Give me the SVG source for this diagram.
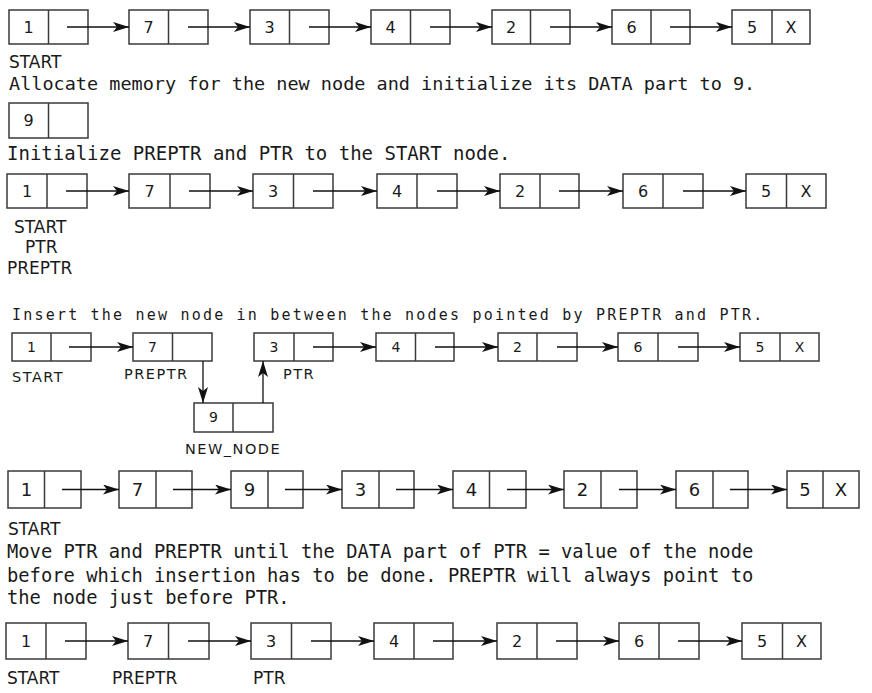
<svg xmlns="http://www.w3.org/2000/svg" width="872" height="693" viewBox="0 0 872 693">
<defs>
<marker id="ah" markerUnits="userSpaceOnUse" markerWidth="16" markerHeight="10" refX="16" refY="5" orient="auto">
<path d="M0,0 L16,5 L0,10 L4,5 z" fill="#111"/>
</marker>
<style>
.box{fill:#fff;stroke:#3a3a3a;stroke-width:1.5}
.div{stroke:#3a3a3a;stroke-width:1.5}
.d{font-family:"DejaVu Sans",sans-serif;fill:#1a1a1a;text-anchor:middle}
.lbl{font-family:"DejaVu Sans",sans-serif;fill:#1a1a1a;font-size:17px}
.lbl4{font-family:"DejaVu Sans",sans-serif;fill:#1a1a1a;font-size:14.5px;letter-spacing:1.5px}
.mono{font-family:"DejaVu Sans Mono",monospace;fill:#1a1a1a}
.conn line{stroke:#111;stroke-width:1.3;marker-end:url(#ah)}
</style>
</defs>
<rect width="872" height="693" fill="#fff"/>

<!-- Row 1 -->
<g id="r1n1"><rect class="box" x="9" y="10" width="79" height="34"/><line class="div" x1="48.5" y1="10" x2="48.5" y2="44"/><text class="d" x="28.5" y="33" font-size="16">1</text></g>
<g id="r1n2"><rect class="box" x="129" y="10" width="79" height="34"/><line class="div" x1="168.5" y1="10" x2="168.5" y2="44"/><text class="d" x="148.5" y="33" font-size="16">7</text></g>
<g id="r1n3"><rect class="box" x="250" y="10" width="79" height="34"/><line class="div" x1="289.5" y1="10" x2="289.5" y2="44"/><text class="d" x="269.5" y="33" font-size="16">3</text></g>
<g id="r1n4"><rect class="box" x="371" y="10" width="79" height="34"/><line class="div" x1="410.5" y1="10" x2="410.5" y2="44"/><text class="d" x="390.5" y="33" font-size="16">4</text></g>
<g id="r1n5"><rect class="box" x="492" y="10" width="78" height="34"/><line class="div" x1="530.5" y1="10" x2="530.5" y2="44"/><text class="d" x="511" y="33" font-size="16">2</text></g>
<g id="r1n6"><rect class="box" x="612" y="10" width="78" height="34"/><line class="div" x1="651" y1="10" x2="651" y2="44"/><text class="d" x="631.5" y="33" font-size="16">6</text></g>
<g id="r1n7"><rect class="box" x="732" y="10" width="78" height="34"/><line class="div" x1="772" y1="10" x2="772" y2="44"/><text class="d" x="752" y="33" font-size="16">5</text><text class="d" x="791" y="33" font-size="16">X</text></g>
<text class="lbl" x="9" y="68" font-size="16">START</text>
<text class="mono" x="9" y="90" font-size="18.5">Allocate memory for the new node and initialize its DATA part to 9.</text>

<!-- Row 2 -->
<g id="r2n1"><rect class="box" x="9" y="103" width="79" height="35"/><line class="div" x1="48.5" y1="103" x2="48.5" y2="138"/><text class="d" x="28.5" y="126" font-size="16">9</text></g>
<text class="mono" x="7" y="160" font-size="19">Initialize PREPTR and PTR to the START node.</text>

<!-- Row 3 -->
<g id="r3n1"><rect class="box" x="7" y="174" width="80" height="34"/><line class="div" x1="47" y1="174" x2="47" y2="208"/><text class="d" x="27" y="197" font-size="16">1</text></g>
<g id="r3n2"><rect class="box" x="129" y="174" width="81" height="34"/><line class="div" x1="170" y1="174" x2="170" y2="208"/><text class="d" x="149.5" y="197" font-size="16">7</text></g>
<g id="r3n3"><rect class="box" x="253" y="174" width="80" height="34"/><line class="div" x1="293.5" y1="174" x2="293.5" y2="208"/><text class="d" x="273" y="197" font-size="16">3</text></g>
<g id="r3n4"><rect class="box" x="377" y="174" width="80" height="34"/><line class="div" x1="417" y1="174" x2="417" y2="208"/><text class="d" x="397" y="197" font-size="16">4</text></g>
<g id="r3n5"><rect class="box" x="500" y="174" width="79" height="34"/><line class="div" x1="540" y1="174" x2="540" y2="208"/><text class="d" x="520" y="197" font-size="16">2</text></g>
<g id="r3n6"><rect class="box" x="623" y="174" width="80" height="34"/><line class="div" x1="663" y1="174" x2="663" y2="208"/><text class="d" x="643" y="197" font-size="16">6</text></g>
<g id="r3n7"><rect class="box" x="746" y="174" width="80" height="34"/><line class="div" x1="786.5" y1="174" x2="786.5" y2="208"/><text class="d" x="766" y="197" font-size="16">5</text><text class="d" x="806" y="197" font-size="16">X</text></g>
<text class="lbl" x="14" y="233">START</text>
<text class="lbl" x="25" y="253">PTR</text>
<text class="lbl" x="7" y="274">PREPTR</text>

<!-- Row 4 -->
<text class="mono" x="12" y="320" font-size="15" letter-spacing="2.2">Insert the new node in between the nodes pointed by PREPTR and PTR.</text>
<g id="r4n1"><rect class="box" x="12" y="333" width="79" height="28"/><line class="div" x1="51" y1="333" x2="51" y2="361"/><text class="d" x="31.5" y="352" font-size="14">1</text></g>
<g id="r4n2"><rect class="box" x="133" y="333" width="79" height="28"/><line class="div" x1="172.5" y1="333" x2="172.5" y2="361"/><text class="d" x="152.5" y="352" font-size="14">7</text></g>
<g id="r4n3"><rect class="box" x="254" y="333" width="79" height="28"/><line class="div" x1="294" y1="333" x2="294" y2="361"/><text class="d" x="274" y="352" font-size="14">3</text></g>
<g id="r4n4"><rect class="box" x="376" y="333" width="78" height="28"/><line class="div" x1="415.5" y1="333" x2="415.5" y2="361"/><text class="d" x="396" y="352" font-size="14">4</text></g>
<g id="r4n5"><rect class="box" x="498" y="333" width="79" height="28"/><line class="div" x1="537" y1="333" x2="537" y2="361"/><text class="d" x="517.5" y="352" font-size="14">2</text></g>
<g id="r4n6"><rect class="box" x="618" y="333" width="80" height="28"/><line class="div" x1="658" y1="333" x2="658" y2="361"/><text class="d" x="638" y="352" font-size="14">6</text></g>
<g id="r4n7"><rect class="box" x="740" y="333" width="79" height="28"/><line class="div" x1="780" y1="333" x2="780" y2="361"/><text class="d" x="760" y="352" font-size="14">5</text><text class="d" x="799.5" y="352" font-size="14">X</text></g>
<g id="r4new"><rect class="box" x="194" y="403" width="79" height="29"/><line class="div" x1="233" y1="403" x2="233" y2="432"/><text class="d" x="213.5" y="422" font-size="14">9</text></g>
<text class="lbl4" x="12" y="382">START</text>
<text class="lbl4" x="124" y="379">PREPTR</text>
<text class="lbl4" x="283" y="379">PTR</text>
<text class="lbl4" x="185" y="454">NEW_NODE</text>

<!-- Row 5 -->
<g id="r5n1"><rect class="box" x="8" y="471" width="73" height="37"/><line class="div" x1="44.5" y1="471" x2="44.5" y2="508"/><text class="d" x="26.5" y="496" font-size="18">1</text></g>
<g id="r5n2"><rect class="box" x="119" y="471" width="73" height="37"/><line class="div" x1="156" y1="471" x2="156" y2="508"/><text class="d" x="137.5" y="496" font-size="18">7</text></g>
<g id="r5n3"><rect class="box" x="231" y="471" width="72" height="37"/><line class="div" x1="268" y1="471" x2="268" y2="508"/><text class="d" x="249.5" y="496" font-size="18">9</text></g>
<g id="r5n4"><rect class="box" x="342" y="471" width="72" height="37"/><line class="div" x1="379" y1="471" x2="379" y2="508"/><text class="d" x="360.5" y="496" font-size="18">3</text></g>
<g id="r5n5"><rect class="box" x="453" y="471" width="73" height="37"/><line class="div" x1="489.5" y1="471" x2="489.5" y2="508"/><text class="d" x="471.5" y="496" font-size="18">4</text></g>
<g id="r5n6"><rect class="box" x="564" y="471" width="73" height="37"/><line class="div" x1="601" y1="471" x2="601" y2="508"/><text class="d" x="582.5" y="496" font-size="18">2</text></g>
<g id="r5n7"><rect class="box" x="676" y="471" width="72" height="37"/><line class="div" x1="713" y1="471" x2="713" y2="508"/><text class="d" x="694.5" y="496" font-size="18">6</text></g>
<g id="r5n8"><rect class="box" x="787" y="471" width="72" height="37"/><line class="div" x1="823" y1="471" x2="823" y2="508"/><text class="d" x="805" y="496" font-size="18">5</text><text class="d" x="841" y="496" font-size="18">X</text></g>
<text class="lbl" x="8" y="535">START</text>
<text class="mono" x="7" y="558" font-size="18.8">Move PTR and PREPTR until the DATA part of PTR = value of the node</text>
<text class="mono" x="7" y="582" font-size="18.8">before which insertion has to be done. PREPTR will always point to</text>
<text class="mono" x="7" y="604" font-size="18.8">the node just before PTR.</text>

<!-- Row 6 -->
<g id="r6n1"><rect class="box" x="6" y="623" width="80" height="36"/><line class="div" x1="46" y1="623" x2="46" y2="659"/><text class="d" x="26" y="647" font-size="16">1</text></g>
<g id="r6n2"><rect class="box" x="128" y="623" width="81" height="36"/><line class="div" x1="168.5" y1="623" x2="168.5" y2="659"/><text class="d" x="148" y="647" font-size="16">7</text></g>
<g id="r6n3"><rect class="box" x="251" y="623" width="80" height="36"/><line class="div" x1="291.5" y1="623" x2="291.5" y2="659"/><text class="d" x="271" y="647" font-size="16">3</text></g>
<g id="r6n4"><rect class="box" x="374" y="623" width="79" height="36"/><line class="div" x1="414" y1="623" x2="414" y2="659"/><text class="d" x="394" y="647" font-size="16">4</text></g>
<g id="r6n5"><rect class="box" x="497" y="623" width="80" height="36"/><line class="div" x1="537" y1="623" x2="537" y2="659"/><text class="d" x="517" y="647" font-size="16">2</text></g>
<g id="r6n6"><rect class="box" x="619" y="623" width="80" height="36"/><line class="div" x1="659" y1="623" x2="659" y2="659"/><text class="d" x="639" y="647" font-size="16">6</text></g>
<g id="r6n7"><rect class="box" x="742" y="623" width="79" height="36"/><line class="div" x1="782.5" y1="623" x2="782.5" y2="659"/><text class="d" x="762" y="647" font-size="16">5</text><text class="d" x="801.5" y="647" font-size="16">X</text></g>
<text class="lbl" x="7" y="684">START</text>
<text class="lbl" x="112" y="684">PREPTR</text>
<text class="lbl" x="253" y="684">PTR</text>

<g id="connectors" class="conn">
<!-- row 1 -->
<line x1="67" y1="27" x2="129" y2="27"/>
<line x1="188" y1="27" x2="250" y2="27"/>
<line x1="309" y1="27" x2="371" y2="27"/>
<line x1="430" y1="27" x2="492" y2="27"/>
<line x1="550" y1="27" x2="612" y2="27"/>
<line x1="670" y1="27" x2="732" y2="27"/>
<!-- row 3 -->
<line x1="66" y1="191" x2="129" y2="191"/>
<line x1="189" y1="191" x2="253" y2="191"/>
<line x1="313" y1="191" x2="377" y2="191"/>
<line x1="437" y1="191" x2="500" y2="191"/>
<line x1="559" y1="191" x2="623" y2="191"/>
<line x1="683" y1="191" x2="746" y2="191"/>
<!-- row 4 -->
<line x1="69" y1="347" x2="133" y2="347"/>
<line x1="313" y1="347" x2="376" y2="347"/>
<line x1="435" y1="347" x2="498" y2="347"/>
<line x1="557" y1="347" x2="618" y2="347"/>
<line x1="678" y1="347" x2="740" y2="347"/>
<line x1="203" y1="361" x2="203" y2="403"/>
<line x1="263" y1="403" x2="263" y2="361"/>
<!-- row 5 -->
<line x1="62" y1="489.5" x2="119" y2="489.5"/>
<line x1="173" y1="489.5" x2="231" y2="489.5"/>
<line x1="285" y1="489.5" x2="342" y2="489.5"/>
<line x1="396" y1="489.5" x2="453" y2="489.5"/>
<line x1="507" y1="489.5" x2="564" y2="489.5"/>
<line x1="619" y1="489.5" x2="676" y2="489.5"/>
<line x1="730" y1="489.5" x2="787" y2="489.5"/>
<!-- row 6 -->
<line x1="65" y1="641" x2="128" y2="641"/>
<line x1="188" y1="641" x2="251" y2="641"/>
<line x1="311" y1="641" x2="374" y2="641"/>
<line x1="433" y1="641" x2="497" y2="641"/>
<line x1="556" y1="641" x2="619" y2="641"/>
<line x1="678" y1="641" x2="742" y2="641"/>
</g>
</svg>
